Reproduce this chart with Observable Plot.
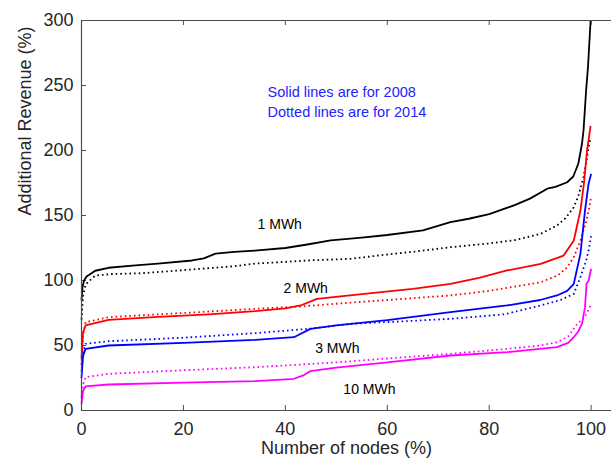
<!DOCTYPE html>
<html>
<head>
<meta charset="utf-8">
<script src="https://cdn.jsdelivr.net/npm/d3@7"></script>
<script src="https://cdn.jsdelivr.net/npm/@observablehq/plot@0.6"></script>
<style>
  html, body { margin: 0; padding: 0; background: #fff; }
</style>
</head>
<body>
<div id="chart"></div>
<script>
// ---- Data ----
const xTicks = [0, 20, 40, 60, 80, 100];
const yTicks = [0, 50, 100, 150, 200, 250, 300];
const xLabel = "Number of nodes (%)";
const yLabel = "Additional Revenue (%)";
const noteLines = ["Solid lines are for 2008", "Dotted lines are for 2014"];
const seriesNames = ["1 MWh", "2 MWh", "3 MWh", "10 MWh"];

const nodes_1MWh_2008 = [0,0.2,0.5,1,2.7,5.3,10,15,21.7,24,26.3,30,34,40,44,48.9,55,60,67,72.4,76,80,85,88,91.4,93,95.3,96.5,97.5,98.2,98.5,99,99.4,99.9];
const rev_1MWh_2008   = [85,95,100,103,107.5,109.8,111.5,113,115.4,117,120.7,122,123,125,127.5,130.8,133,135,138.5,144.9,147.5,151,158,163,170.6,172,175.6,180,190,205,215,245,265,300];

const nodes_1MWh_2014 = [0,0.3,0.8,2.7,6,11.9,20,30,34,45,52.8,60,66,72.4,80,85,90.1,93.3,95,96.6,97.5,98.5,99.1,99.5,99.9];
const rev_1MWh_2014   = [70,88,97,103.8,105,105.6,108,111,113,115.5,116.7,120,122.5,125.6,128.5,131,135.9,142.3,148,156.4,165,179.5,192,202.5,210];

const nodes_2MWh_2008 = [0,0.3,0.8,5.3,15,25,34.1,40,43,46.2,55,65,72.4,78,83.5,90.1,94.6,96.6,97.9,98.6,99.2,99.9];
const rev_2MWh_2008   = [40,60,65.4,69.7,72,74,76.4,78.5,80.8,85.9,89.5,93.5,97.4,102,107.7,112.8,119.2,130.8,153.8,175,200,219];

const nodes_2MWh_2014 = [0,0.3,0.8,5.3,20,34.1,43,52.8,60,72.4,80,90.1,93.5,95.3,96.6,97.9,99,99.5,100];
const rev_2MWh_2014   = [35,58,67.9,71.8,75,78.2,80,83,85,88.5,92,98.7,104,110.2,118,130.8,145,153.8,164];

const nodes_3MWh_2008 = [0,0.3,0.8,5.3,20,34.1,41.7,44.9,50,60,72.4,83.5,90,93.3,95.3,96.6,97.9,98.8,99.5,100];
const rev_3MWh_2008   = [25,42,47.4,50,52,54.4,56.4,62.8,65.5,69.5,75.6,80.8,85,88.5,92,97.4,120.5,153.8,174.4,182];

const nodes_3MWh_2014 = [0,0.3,0.8,5.3,20,34.1,45,52.8,60,72.4,83,90.1,94,96.6,97.9,99,99.5,100];
const rev_3MWh_2014   = [30,45,51.3,53.3,56,59.5,63,66.7,68,70.5,74,80.8,85,89.7,102.6,115,123,134.6];

const nodes_10MWh_2008 = [0,0.3,0.8,5.3,20,34.1,41.7,43.5,44.9,50,60,72.4,83.5,93.3,95.5,96.6,97.5,98.2,98.8,99.1,99.5,100];
const rev_10MWh_2008   = [5,15,18.5,20,21.5,22.6,24.4,27,30.3,33,37,42.3,44.9,48.7,52,56.4,61,66.7,79.5,97.4,100,109];

const nodes_10MWh_2014 = [0,0.3,0.8,5.3,20,34.1,50,60,72.4,83.5,90,93.3,95.5,97.3,98.5,99.1,99.9];
const rev_10MWh_2014   = [10,20,25.6,28.2,31,33.3,37,40,43.6,47.4,50,52.5,57,66.7,71,74.4,80.8];

// ---- Build tables ----
const zip = (xs, ys) => xs.map((x, i) => ({x, y: ys[i]}));
const series = [
  {name: "1 MWh",  year: 2008, color: "#000000", pts: zip(nodes_1MWh_2008, rev_1MWh_2008)},
  {name: "1 MWh",  year: 2014, color: "#000000", pts: zip(nodes_1MWh_2014, rev_1MWh_2014)},
  {name: "2 MWh",  year: 2008, color: "#ff0000", pts: zip(nodes_2MWh_2008, rev_2MWh_2008)},
  {name: "2 MWh",  year: 2014, color: "#ff0000", pts: zip(nodes_2MWh_2014, rev_2MWh_2014)},
  {name: "3 MWh",  year: 2008, color: "#0000ff", pts: zip(nodes_3MWh_2008, rev_3MWh_2008)},
  {name: "3 MWh",  year: 2014, color: "#0000ff", pts: zip(nodes_3MWh_2014, rev_3MWh_2014)},
  {name: "10 MWh", year: 2008, color: "#ff00ff", pts: zip(nodes_10MWh_2008, rev_10MWh_2008)},
  {name: "10 MWh", year: 2014, color: "#ff00ff", pts: zip(nodes_10MWh_2014, rev_10MWh_2014)}
];

// annotation anchors (data units)
const labelAnchors = [
  {text: seriesNames[0], x: 38.9, y: 143},
  {text: seriesNames[1], x: 44.0, y: 94},
  {text: seriesNames[2], x: 50.2, y: 48},
  {text: seriesNames[3], x: 56.5, y: 16}
];
const noteAnchors = [
  {text: noteLines[0], x: 36.5, y: 244.6},
  {text: noteLines[1], x: 36.5, y: 229.6}
];

const X_MAX = 104, Y_MAX = 300;
const TICK_PX = 5;
const axisColor = "#4d4d4d";

const lineMarks = series.map(s => Plot.line(s.pts, {
  x: "x", y: "y", stroke: s.color, strokeWidth: 1.8,
  strokeDasharray: s.year === 2014 ? "1.6,3" : null,
  strokeLinecap: "butt", curve: "linear"
}));

// Inward tick marks drawn as short rules, lengths converted from pixels to data units
const plotW = 611 - 81 - 0, plotH = 462 - 20 - 52;
const tyLen = TICK_PX * Y_MAX / plotH;
const txLen = TICK_PX * X_MAX / plotW;
const bottomTicks = xTicks.map(v => ({x: v, y1: 0, y2: tyLen}));
const topTicks = xTicks.map(v => ({x: v, y1: Y_MAX - tyLen, y2: Y_MAX}));
const leftTicks = yTicks.map(v => ({y: v, x1: 0, x2: txLen}));

const chart = Plot.plot({
  width: 611,
  height: 462,
  marginLeft: 81,
  marginRight: 0,
  marginTop: 20,
  marginBottom: 52,
  style: {fontFamily: "'Liberation Sans', Arial, Helvetica, sans-serif", fontSize: "18px", color: "#262626", background: "#fff"},
  x: {domain: [0, X_MAX], ticks: xTicks, label: null},
  y: {domain: [0, Y_MAX], ticks: yTicks, label: null},
  marks: [
    Plot.axisX(xTicks, {tickSize: 0, tickPadding: 12, label: null, fill: "#262626"}),
    Plot.axisY(yTicks, {tickSize: 0, tickPadding: 8, label: null, fill: "#262626"}),
    Plot.ruleX(bottomTicks, {x: "x", y1: "y1", y2: "y2", stroke: axisColor}),
    Plot.ruleX(topTicks, {x: "x", y1: "y1", y2: "y2", stroke: axisColor}),
    Plot.ruleY(leftTicks, {y: "y", x1: "x1", x2: "x2", stroke: axisColor}),
    ...lineMarks,
    // box
    Plot.ruleY([0, Y_MAX], {stroke: axisColor, strokeWidth: 1.2}),
    Plot.ruleX([0], {stroke: axisColor, strokeWidth: 1.2}),
    // annotations
    Plot.text(labelAnchors, {x: "x", y: "y", text: "text", fontSize: 14, fill: "#000"}),
    Plot.text(noteAnchors, {x: "x", y: "y", text: "text", fontSize: 14.5, fill: "#2222ff", textAnchor: "start"}),
    // axis titles
    Plot.text([xLabel], {frameAnchor: "bottom", dy: 43, text: d => d, fill: "#262626"}),
    Plot.text([yLabel], {frameAnchor: "left", dx: -56, rotate: -90, text: d => d, fill: "#262626"})
  ]
});
document.getElementById("chart").appendChild(chart);
</script>
</body>
</html>
